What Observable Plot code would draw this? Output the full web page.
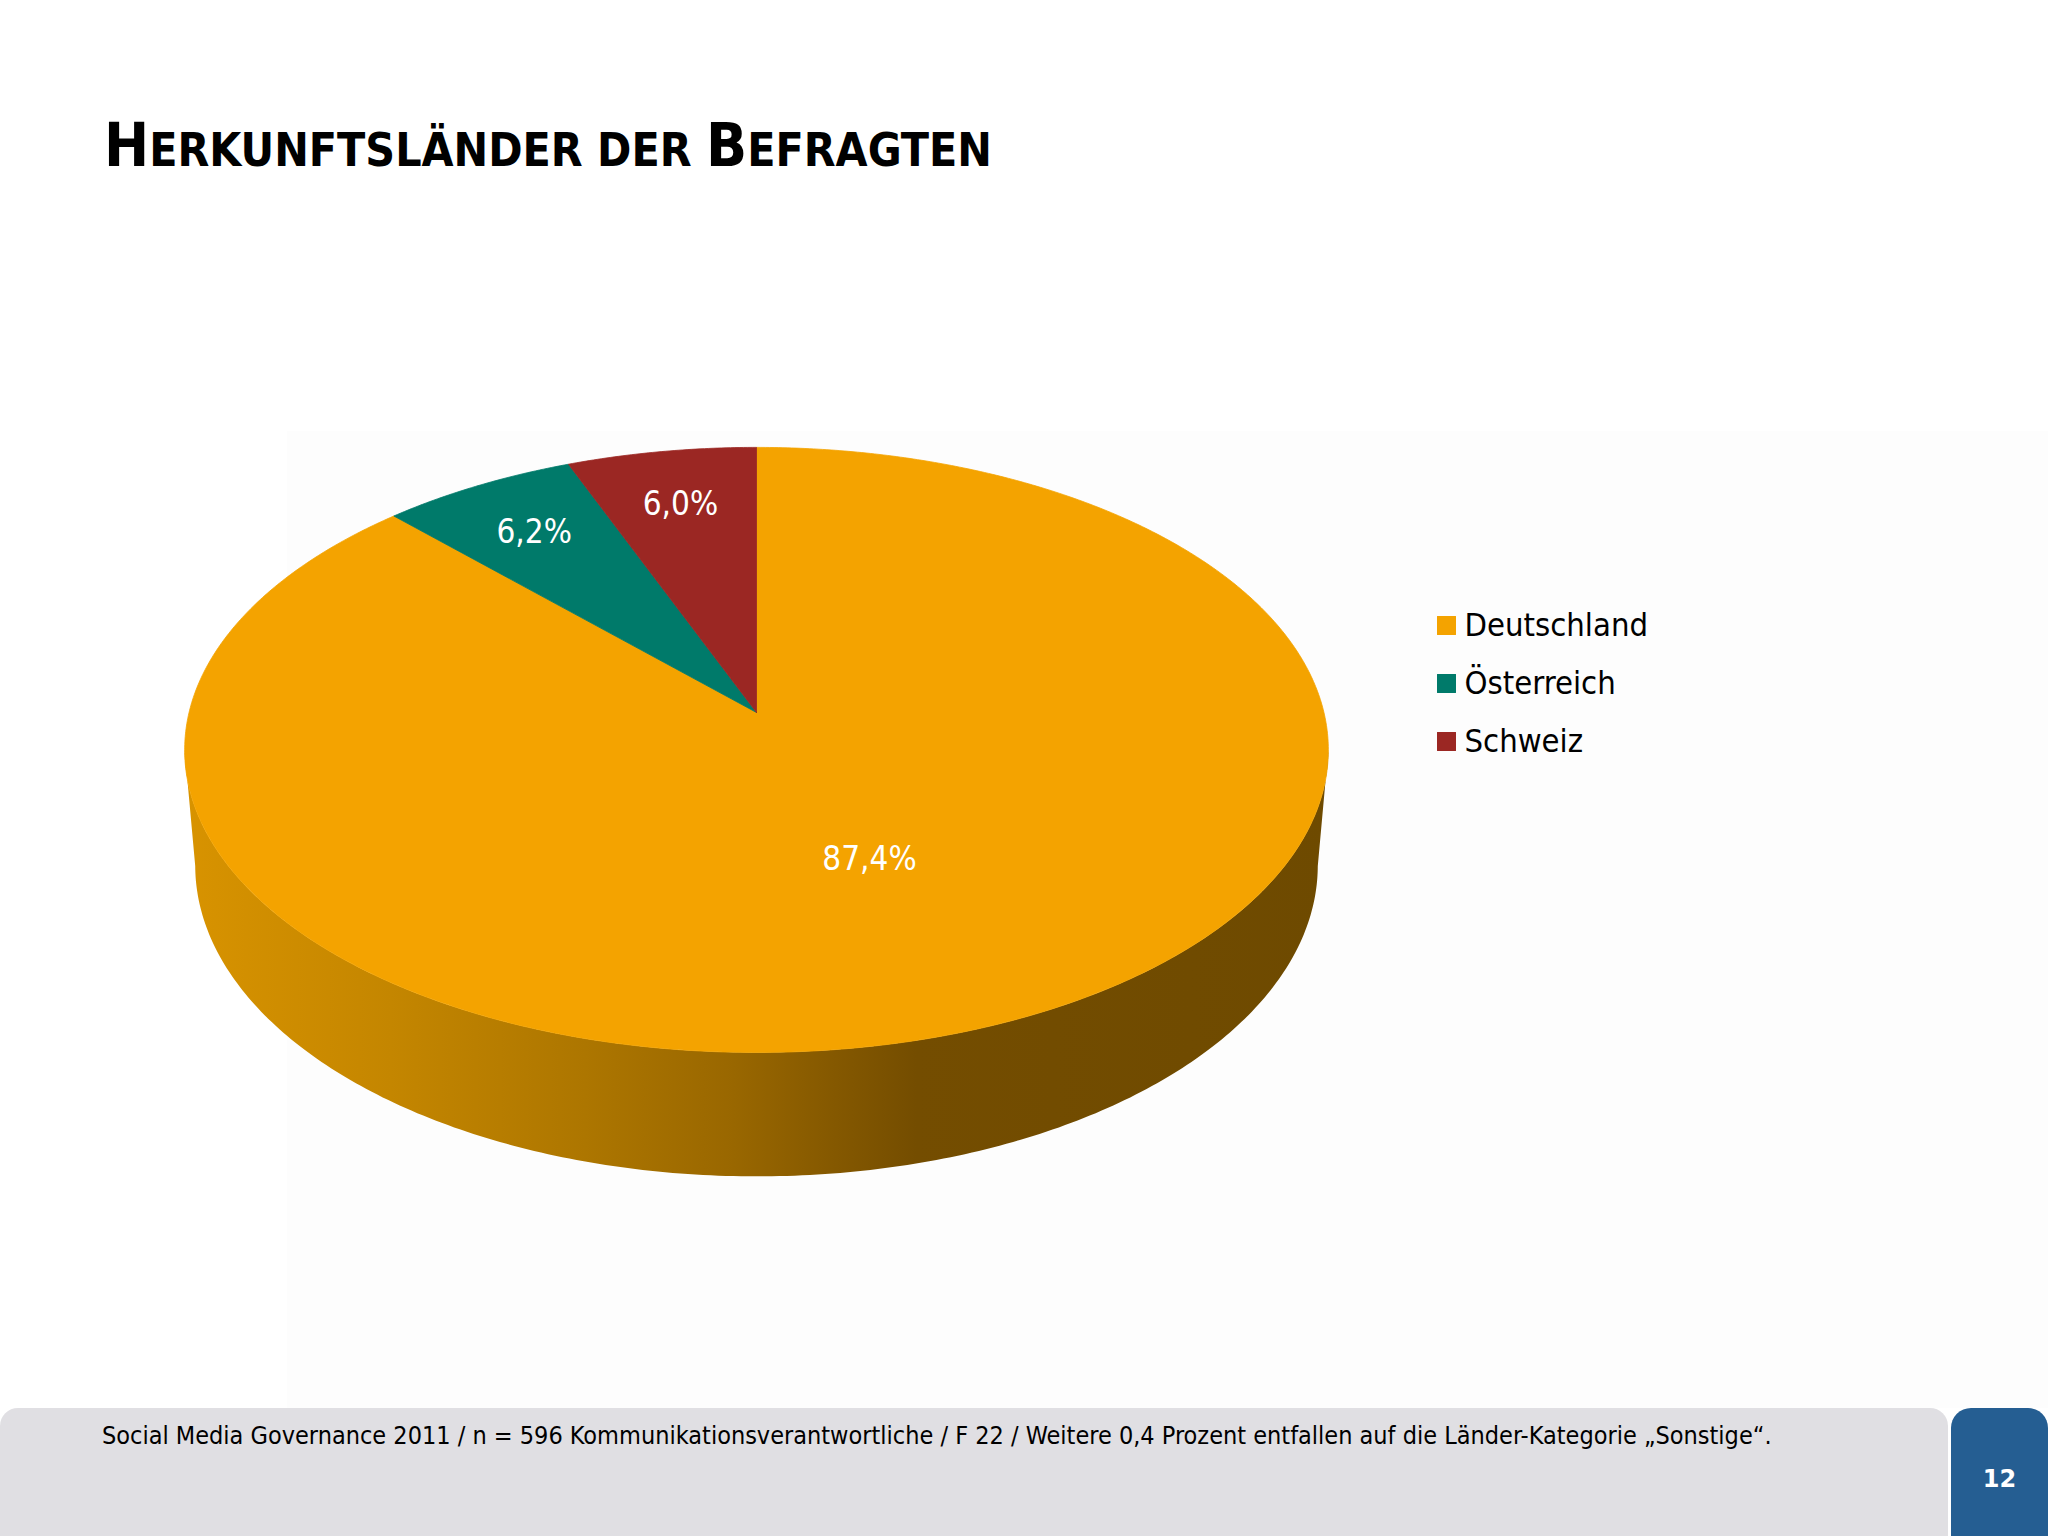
<!DOCTYPE html>
<html><head><meta charset="utf-8">
<script src="https://cdn.jsdelivr.net/npm/d3@7"></script>
<script src="https://cdn.jsdelivr.net/npm/@observablehq/plot@0.6"></script>
<style>
html,body{margin:0;padding:0;background:#fff;}
body{width:2048px;height:1536px;position:relative;overflow:hidden;font-family:"DejaVu Sans Condensed","DejaVu Sans",sans-serif;font-stretch:condensed;}
#panel{position:absolute;left:287px;top:431px;right:0;bottom:128px;background:#fdfdfd;}
#title{position:absolute;left:104px;top:115px;font-weight:bold;font-size:60px;line-height:60px;color:#000;white-space:nowrap;}
#title .sm{font-size:46px;}
#chart{position:absolute;left:0;top:0;}
#footer{position:absolute;left:0;top:1408px;width:1948px;height:128px;background:#e0dfe3;border-radius:18px 18px 0 0;}
#footer .txt{position:absolute;left:102px;top:11px;font-size:25px;line-height:34px;color:#000;white-space:nowrap;}
#page{position:absolute;left:1951px;top:1408px;width:97px;height:128px;background:#255e92;border-radius:20px 20px 0 0;color:#fff;font-family:"DejaVu Sans",sans-serif;font-stretch:normal;font-weight:bold;font-size:24px;}
#page span{position:absolute;left:0;right:0;top:57px;text-align:center;}
</style></head><body>
<div id="panel"></div>
<div id="title"><span>H</span><span class="sm">ERKUNFTSLÄNDER DER </span><span>B</span><span class="sm">EFRAGTEN</span></div>
<div id="chart"></div>
<div id="footer"><div class="txt">Social Media Governance 2011 / n = 596 Kommunikationsverantwortliche / F 22 / Weitere 0,4 Prozent entfallen auf die Länder-Kategorie „Sonstige“.</div></div>
<div id="page"><span>12</span></div>
<script>
// ---- data ----
const categories = ["Deutschland", "Österreich", "Schweiz"];
const shares = [87.4, 6.2, 6.0];
const shareLabels = ["87,4%", "6,2%", "6,0%"];
const colors = ["#F4A300", "#007A6A", "#9B2723"];

// ---- 3D pie projection (layout) ----
const W = 2048, H = 1400;
const cx = 756, cy = 712;            // projected centre of the top face
const F = 3904, D = 6.88;            // focal length and camera distance
const sinA = 0.525, cosA = Math.sqrt(1 - sinA * sinA);
const T = 0.2426;                    // thickness (in radii)
function proj(theta, r, h) {
  const X = r * Math.sin(theta), Z = r * Math.cos(theta);
  const yp = Z * sinA + h * cosA;
  const zp = D + Z * cosA - h * sinA;
  return [cx + F * X / zp, cy - F * yp / zp];
}

const table = categories.map((name, i) => ({name, share: shares[i], label: shareLabels[i]}));
const arcs = d3.pie().sort(null).value(d => d.share).startAngle(0).endAngle(2 * Math.PI)(table);

// top-face wedges
const wedgeRows = [];
for (const a of arcs) {
  wedgeRows.push({name: a.data.name, x: cx, y: cy});
  const n = Math.max(4, Math.ceil((a.endAngle - a.startAngle) / (Math.PI / 360)));
  for (let k = 0; k <= n; k++) {
    const th = a.startAngle + (a.endAngle - a.startAngle) * k / n;
    const [x, y] = proj(th, 1, 0);
    wedgeRows.push({name: a.data.name, x, y});
  }
  wedgeRows.push({name: a.data.name, x: cx, y: cy});
}

// front side wall (visible between the two silhouette tangents)
const thR = Math.acos(-cosA / D), thL = 2 * Math.PI - thR;
const sideRows = [];
const ns = 240;
for (let k = 0; k <= ns; k++) {
  const th = thR + (thL - thR) * k / ns;
  const [x, y] = proj(th, 1, 0); sideRows.push({x, y});
}
for (let k = ns; k >= 0; k--) {
  const th = thR + (thL - thR) * k / ns;
  const [x, y] = proj(th, 1, -T); sideRows.push({x, y});
}

// labels
const labelRows = arcs.map(a => {
  const mid = (a.startAngle + a.endAngle) / 2;
  const r = a.data.share > 50 ? 0.5 : 0.78;
  const [x, y] = proj(mid, r, 0);
  return {x, y, label: a.data.label};
});

// legend
const legendRows = categories.map((name, i) => ({name, x: 1446, y: 625 + i * 58}));

const svg = Plot.plot({
  width: W, height: H,
  margin: 0,
  x: {type: "linear", domain: [0, W], range: [0, W], axis: null},
  y: {type: "linear", domain: [0, H], range: [0, H], axis: null},
  color: {domain: categories, range: colors},
  style: {background: "transparent", overflow: "visible"},
  marks: [
    Plot.line(sideRows, {x: "x", y: "y", fill: "url(#sideGrad)", stroke: "none", curve: "linear"}),
    Plot.line(wedgeRows, {x: "x", y: "y", z: "name", fill: "name", stroke: "name", strokeWidth: 0.8, curve: "linear"}),
    Plot.text(labelRows, {x: "x", y: "y", text: "label", fill: "white", fontSize: 33, textAnchor: "middle", lineAnchor: "middle", fontFamily: "DejaVu Sans Condensed, DejaVu Sans, sans-serif"}),
    Plot.dot(legendRows, {x: "x", y: "y", symbol: "square", r: 10.7, fill: "name", stroke: "none"}),
    Plot.text(legendRows, {x: d => d.x + 18, y: "y", text: "name", fill: "black", fontSize: 32.5, textAnchor: "start", lineAnchor: "middle", fontFamily: "DejaVu Sans Condensed, DejaVu Sans, sans-serif"})
  ]
});

// gradient for the side wall, placed with the x scale
const xs = svg.scale("x");
const ns_ = "http://www.w3.org/2000/svg";
const defs = document.createElementNS(ns_, "defs");
const grad = document.createElementNS(ns_, "linearGradient");
grad.setAttribute("id", "sideGrad");
grad.setAttribute("gradientUnits", "userSpaceOnUse");
const xl = xs.apply(d3.min(sideRows, d => d.x)), xr = xs.apply(d3.max(sideRows, d => d.x));
grad.setAttribute("x1", xl); grad.setAttribute("x2", xr);
grad.setAttribute("y1", 0); grad.setAttribute("y2", 0);
[[0, "#d89300"], [0.18, "#c48600"], [0.35, "#ad7600"], [0.48, "#996700"], [0.57, "#845800"], [0.64, "#744d00"], [1, "#6e4a00"]]
  .forEach(([o, c]) => {
    const s = document.createElementNS(ns_, "stop");
    s.setAttribute("offset", o); s.setAttribute("stop-color", c);
    grad.appendChild(s);
  });
defs.appendChild(grad);
svg.insertBefore(defs, svg.firstChild);
document.getElementById("chart").appendChild(svg);
</script>
</body></html>
